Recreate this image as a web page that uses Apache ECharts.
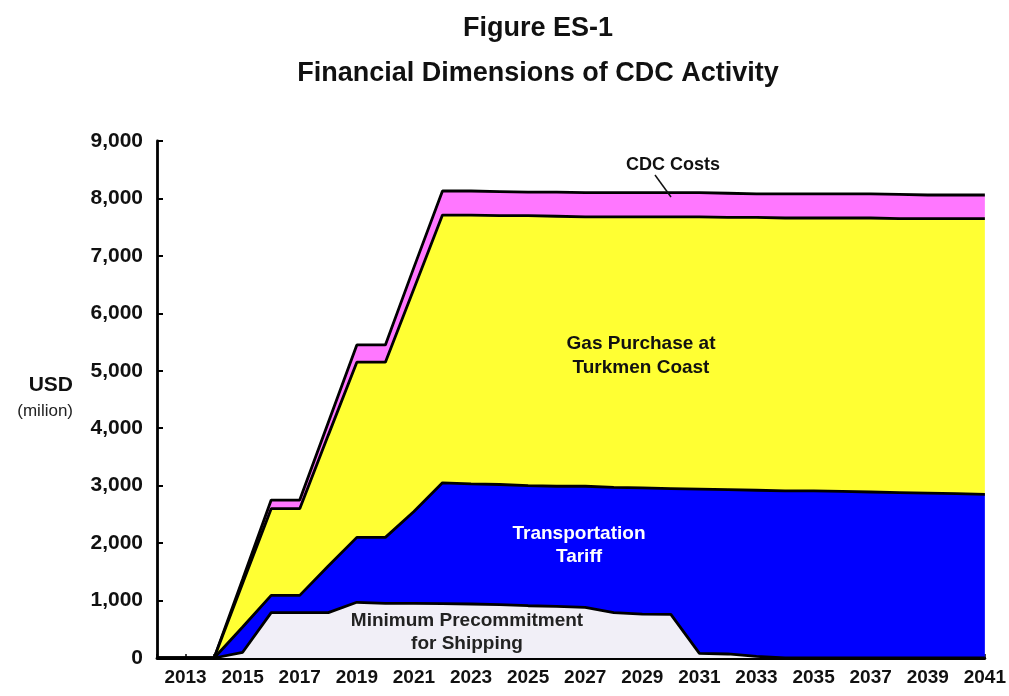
<!DOCTYPE html>
<html>
<head>
<meta charset="utf-8">
<script src="https://cdn.jsdelivr.net/npm/echarts@6/dist/echarts.min.js"></script>
<style>
html,body{margin:0;padding:0;background:#fff;}
#chart{width:1009px;height:696px;}
</style>
</head>
<body>
<div id="chart"></div>
<script>
const years = [];
for (let y = 2012; y <= 2041; y++) years.push(String(y));

// Component values (USD million), stacked bottom to top
const precommitment = [0,0,0,100,790,790,790,970,950,950, 945,940,930,910,900,880,790,765,760,80, 70,30,0,0,0,0,0,0,0,0];
const tariff        = [0,0,0,440,300,300,810,1130,1150,1600, 2105,2090,2090,2090,2090,2110,2180,2195,2190,2860, 2860,2890,2910,2910,2900,2890,2880,2870,2860,2850];
const gasPurchase   = [0,0,0,760,1510,1510,2280,3050,3050,3880, 4660,4680,4680,4700,4700,4690,4710,4720,4730,4740, 4740,4750,4750,4750,4760,4770,4770,4780,4790,4800];
const cdcCosts      = [0,0,0,70,150,150,220,300,300,370, 420,420,420,410,420,420,420,420,420,420, 420,410,420,420,420,420,420,410,410,410];

const yTicks = [0,1000,2000,3000,4000,5000,6000,7000,8000,9000];

const FONT = '"Liberation Sans", Arial, sans-serif';

function areaSeries(name, data, color, z) {
  return {
    name: name, type: 'line', stack: 'total', data: data,
    symbol: 'none', z: z,
    lineStyle: { color: '#000', width: 2.8 },
    areaStyle: { color: color, opacity: 1 },
    emphasis: { disabled: true }
  };
}

const chart = echarts.init(document.getElementById('chart'));
chart.setOption({
  animation: false,
  backgroundColor: '#fff',
  title: [
    { text: 'Figure ES-1', left: 533, top: 10, textAlign: 'center',
      textStyle: { fontFamily: FONT, fontWeight: 'bold', fontSize: 27, color: '#111' } },
    { text: 'Financial Dimensions of CDC Activity', left: 533, top: 55, textAlign: 'center',
      textStyle: { fontFamily: FONT, fontWeight: 'bold', fontSize: 27, color: '#111' } }
  ],
  grid: { left: 157, right: 23, top: 141, bottom: 38, containLabel: false },
  xAxis: {
    type: 'category', data: years, boundaryGap: false,
    axisLine: { lineStyle: { color: '#000', width: 2.8 } },
    axisTick: { show: true, inside: true, length: 4, interval: 0, lineStyle: { color: '#000', width: 1.5 } },
    axisLabel: {
      interval: function (i, v) { return (+v) % 2 === 1; },
      fontFamily: FONT, fontWeight: 'bold', fontSize: 19, color: '#111', margin: 10
    },
    splitLine: { show: false }
  },
  yAxis: {
    type: 'value', min: 0, max: 9000, interval: 1000,
    axisLine: { show: true, lineStyle: { color: '#000', width: 2.8 } },
    axisTick: { show: true, inside: true, length: 6, lineStyle: { color: '#000', width: 2 } },
    axisLabel: {
      fontFamily: FONT, fontWeight: 'bold', fontSize: 21, color: '#111', margin: 14,
      formatter: function (v) { return yTicks.indexOf(v) >= 0 ? v.toLocaleString('en-US') : ''; }
    },
    splitLine: { show: false }
  },
  series: [
    areaSeries('Minimum Precommitment for Shipping', precommitment, '#f1eff7', 14),
    areaSeries('Transportation Tariff', tariff, '#0000ff', 13),
    areaSeries('Gas Purchase at Turkmen Coast', gasPurchase, '#ffff33', 12),
    areaSeries('CDC Costs', cdcCosts, '#ff77ff', 11)
  ],
  graphic: [
    { type: 'text', x: 73, y: 385, style: { text: 'USD', font: 'bold 21px ' + FONT, fill: '#111', align: 'right', verticalAlign: 'middle' } },
    { type: 'text', x: 73, y: 411, style: { text: '(milion)', font: '17px ' + FONT, fill: '#222', align: 'right', verticalAlign: 'middle' } },
    { type: 'text', x: 673, y: 165, style: { text: 'CDC Costs', font: 'bold 18px ' + FONT, fill: '#111', align: 'center', verticalAlign: 'middle' }, z: 100 },
    { type: 'line', shape: { x1: 655, y1: 175, x2: 671, y2: 197 }, style: { stroke: '#111', lineWidth: 1.5 }, z: 100 },
    { type: 'text', x: 641, y: 356, style: { text: 'Gas Purchase at\nTurkmen Coast', font: 'bold 19px ' + FONT, fill: '#111', align: 'center', verticalAlign: 'middle', lineHeight: 24 }, z: 100 },
    { type: 'text', x: 579, y: 545, style: { text: 'Transportation\nTariff', font: 'bold 19px ' + FONT, fill: '#fff', align: 'center', verticalAlign: 'middle', lineHeight: 23 }, z: 100 },
    { type: 'text', x: 467, y: 632, style: { text: 'Minimum Precommitment\nfor Shipping', font: 'bold 19px ' + FONT, fill: '#222', align: 'center', verticalAlign: 'middle', lineHeight: 23 }, z: 100 }
  ]
});
</script>
</body>
</html>
